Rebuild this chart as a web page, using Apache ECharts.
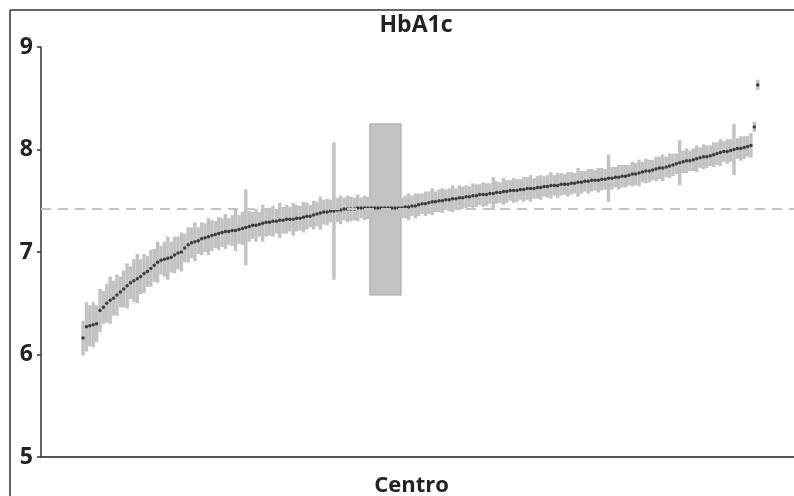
<!DOCTYPE html>
<html>
<head>
<meta charset="utf-8">
<title>HbA1c</title>
<script src="https://cdn.jsdelivr.net/npm/echarts@6/dist/echarts.min.js"></script>
<style>
  html, body { margin: 0; padding: 0; background: #fff; }
  #chart { width: 794px; height: 496px; }
</style>
</head>
<body>
<div id="chart"></div>
<script>
// mean HbA1c per centre, sorted (caterpillar plot)
var means = [
  6.16, 6.27, 6.28, 6.29, 6.30, 6.43, 6.46, 6.50, 6.53, 6.55,
  6.58, 6.61, 6.64, 6.67, 6.70, 6.72, 6.74, 6.76, 6.79, 6.81,
  6.84, 6.87, 6.90, 6.92, 6.93, 6.94, 6.95, 6.97, 6.99, 7.00,
  7.04, 7.07, 7.09, 7.10, 7.11, 7.13, 7.14, 7.15, 7.16, 7.17,
  7.18, 7.19, 7.20, 7.20, 7.21, 7.21, 7.22, 7.23, 7.24, 7.25,
  7.26, 7.26, 7.27, 7.28, 7.29, 7.29, 7.30, 7.30, 7.31, 7.31,
  7.32, 7.32, 7.32, 7.33, 7.33, 7.34, 7.35, 7.35, 7.36, 7.37,
  7.38, 7.39, 7.39, 7.40, 7.40, 7.41, 7.41, 7.42, 7.42, 7.42,
  7.42, 7.43, 7.43, 7.43, 7.43, 7.43, 7.43, 7.43, 7.43, 7.43,
  7.43, 7.43, 7.43, 7.43, 7.43, 7.44, 7.44, 7.45, 7.45, 7.46,
  7.47, 7.47, 7.48, 7.49, 7.49, 7.50, 7.50, 7.51, 7.51, 7.52,
  7.52, 7.53, 7.53, 7.54, 7.54, 7.55, 7.55, 7.56, 7.56, 7.56,
  7.57, 7.57, 7.58, 7.58, 7.59, 7.59, 7.60, 7.60, 7.60, 7.61,
  7.61, 7.62, 7.62, 7.62, 7.63, 7.63, 7.64, 7.64, 7.65, 7.65,
  7.65, 7.66, 7.66, 7.66, 7.67, 7.67, 7.68, 7.68, 7.69, 7.69,
  7.70, 7.70, 7.70, 7.71, 7.71, 7.72, 7.72, 7.73, 7.73, 7.74,
  7.74, 7.75, 7.76, 7.76, 7.77, 7.78, 7.79, 7.79, 7.80, 7.81,
  7.82, 7.82, 7.83, 7.84, 7.85, 7.86, 7.87, 7.88, 7.89, 7.89,
  7.90, 7.91, 7.92, 7.93, 7.93, 7.94, 7.95, 7.96, 7.97, 7.98,
  7.98, 7.99, 8.00, 8.01, 8.01, 8.02, 8.03, 8.04, 8.22, 8.63
];

// half width of each centre's interval
var halfWidth = [
  0.17, 0.24, 0.20, 0.22, 0.18, 0.21, 0.16, 0.19, 0.23, 0.17,
  0.20, 0.15, 0.18, 0.22, 0.16, 0.21, 0.24, 0.17, 0.19, 0.15,
  0.18, 0.16, 0.20, 0.14, 0.17, 0.21, 0.15, 0.18, 0.16, 0.19,
  0.14, 0.17, 0.15, 0.19, 0.13, 0.16, 0.14, 0.18, 0.15, 0.13,
  0.16, 0.14, 0.17, 0.13, 0.15, 0.20, 0.14, 0.16, 0.37, 0.15,
  0.13, 0.16, 0.12, 0.18, 0.14, 0.13, 0.15, 0.12, 0.17, 0.13,
  0.14, 0.12, 0.16, 0.13, 0.12, 0.15, 0.13, 0.11, 0.14, 0.12,
  0.16, 0.12, 0.13, 0.11, 0.67, 0.12, 0.14, 0.11, 0.13, 0.12,
  0.11, 0.13, 0.10, 0.12, 0.11, 0.10, 0.12, 0.11, 0.10, 0.12,
  0.11, 0.10, 0.12, 0.11, 0.10, 0.11, 0.13, 0.10, 0.12, 0.11,
  0.10, 0.12, 0.11, 0.13, 0.10, 0.11, 0.12, 0.10, 0.11, 0.13,
  0.10, 0.12, 0.11, 0.11, 0.10, 0.12, 0.11, 0.10, 0.12, 0.11,
  0.10, 0.16, 0.11, 0.10, 0.13, 0.11, 0.10, 0.12, 0.11, 0.10,
  0.12, 0.11, 0.13, 0.10, 0.11, 0.12, 0.10, 0.11, 0.13, 0.10,
  0.12, 0.11, 0.10, 0.12, 0.11, 0.10, 0.14, 0.11, 0.10, 0.12,
  0.11, 0.10, 0.12, 0.11, 0.10, 0.23, 0.11, 0.10, 0.12, 0.11,
  0.11, 0.10, 0.12, 0.11, 0.13, 0.10, 0.12, 0.11, 0.10, 0.12,
  0.11, 0.13, 0.10, 0.12, 0.11, 0.10, 0.22, 0.11, 0.12, 0.10,
  0.11, 0.13, 0.10, 0.12, 0.11, 0.10, 0.12, 0.11, 0.13, 0.10,
  0.12, 0.11, 0.25, 0.10, 0.12, 0.11, 0.10, 0.12, 0.05, 0.05
];

var overallMean = 7.42;
// centre with the very wide interval, drawn as a block: [fromRank, toRank, low, high]
var wideCentre = [85.6, 94.8, 6.58, 8.25];
var yTicks = [5, 6, 7, 8, 9];

var points = means.map(function (v, i) { return [i + 1, v]; });
var bars = means.map(function (v, i) {
  return [i + 1, +(v - halfWidth[i]).toFixed(2), +(v + halfWidth[i]).toFixed(2)];
});

var chart = echarts.init(document.getElementById('chart'));

chart.setOption({
  animation: false,
  backgroundColor: '#fff',
  textStyle: { fontFamily: 'Open Sans' },
  title: {
    text: 'HbA1c',
    left: 411,
    textAlign: 'center',
    top: 9,
    textStyle: { fontSize: 23, fontWeight: 'bold', color: '#222', fontFamily: 'Open Sans' }
  },
  grid: { left: 41, right: 0, top: 47, bottom: 39, containLabel: false, outerBoundsMode: 'none' },
  xAxis: {
    type: 'value',
    min: -11.4,
    max: 210.7,
    name: 'Centro',
    nameLocation: 'middle',
    nameGap: 18,
    nameTextStyle: { fontSize: 22, fontWeight: 'bold', color: '#222', fontFamily: 'Open Sans', padding: [0, 12, 0, 0] },
    axisLine: { onZero: false, lineStyle: { color: '#555', width: 2 } },
    axisTick: { show: false },
    axisLabel: { show: false },
    splitLine: { show: false }
  },
  yAxis: {
    type: 'value',
    min: yTicks[0],
    max: yTicks[yTicks.length - 1],
    interval: 1,
    axisLine: { show: true, onZero: false, lineStyle: { color: '#333', width: 1.5 } },
    axisTick: { show: true, length: 4, lineStyle: { color: '#333', width: 1.5 } },
    axisLabel: { fontSize: 23, fontWeight: 'bold', color: '#222', margin: 8, fontFamily: 'Open Sans' },
    splitLine: { show: false }
  },
  graphic: [
    { type: 'line', shape: { x1: 10, y1: 10, x2: 794, y2: 10 }, style: { stroke: '#333', lineWidth: 1.5 } },
    { type: 'line', shape: { x1: 10, y1: 10, x2: 10, y2: 496 }, style: { stroke: '#333', lineWidth: 1.5 } }
  ],
  series: [
    {
      name: 'interval',
      type: 'custom',
      z: 1,
      data: bars,
      renderItem: function (params, api) {
        var p1 = api.coord([api.value(0), api.value(1)]);
        var p2 = api.coord([api.value(0), api.value(2)]);
        return {
          type: 'line',
          shape: { x1: p1[0], y1: p1[1], x2: p2[0], y2: p2[1] },
          style: { stroke: '#c2c2c2', lineWidth: 3.4 }
        };
      },
      markArea: {
        silent: true,
        itemStyle: { color: '#c3c3c3', borderColor: '#a8a8a8', borderWidth: 1 },
        data: [[
          { xAxis: wideCentre[0], yAxis: wideCentre[2] },
          { xAxis: wideCentre[1], yAxis: wideCentre[3] }
        ]]
      }
    },
    {
      name: 'mean',
      type: 'scatter',
      z: 3,
      symbol: 'circle',
      symbolSize: 3.5,
      itemStyle: { color: '#1c1c1c' },
      data: points,
      markLine: {
        silent: true,
        symbol: 'none',
        label: { show: false },
        lineStyle: { color: '#c4c4c4', width: 2, type: [10, 7] },
        data: [{ yAxis: overallMean }]
      }
    }
  ]
});
</script>
</body>
</html>
